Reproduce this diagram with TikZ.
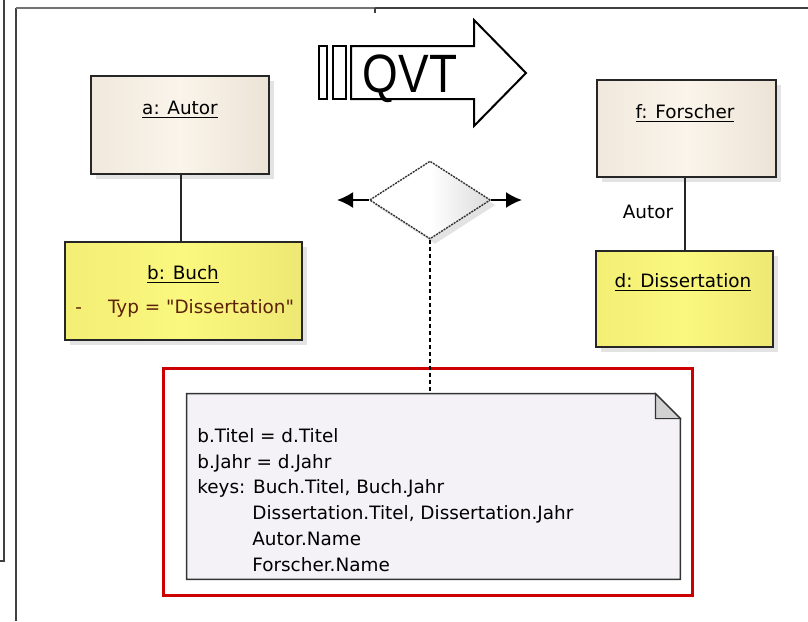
\documentclass[tikz,border=0pt]{standalone}
\usepackage{fontspec}
\setmainfont{DejaVu Sans}
\newfontfamily\qvtfont{Liberation Sans}
\usetikzlibrary{shapes.geometric,shadows,arrows.meta}

\newlength{\du}
\setlength{\du}{0.5pt}

\begin{document}
\begin{tikzpicture}[
  every node/.style={font=\fontsize{9.2}{12.9}\selectfont},
  frameline/.style={line width=2\du, draw=black!75},
  boxshadow/.style={drop shadow={shadow xshift=5\du, shadow yshift=-5\du, fill=black!22}},
  beigebox/.style={rectangle, draw=black!85, line width=1.4\du, inner sep=0pt,
    left color=beigeL, right color=beigeR, middle color=beigeM, boxshadow},
  yellowbox/.style={rectangle, draw=black!85, line width=1.4\du, inner sep=0pt,
    left color=yellowL, right color=yellowR, middle color=yellowM, boxshadow},
  objname/.style={anchor=base, inner sep=0pt},
  assoc/.style={line width=1.4\du, draw=black!85},
  flowarrow/.style={line width=2\du, -{Latex[length=8pt,width=8pt]}},
  notelink/.style={line width=1.5\du, dash pattern=on 4\du off 3\du},
  notetext/.style={anchor=north west, align=left, inner sep=0pt}
]
\definecolor{beigeL}{rgb}{0.941,0.910,0.867}
\definecolor{beigeM}{rgb}{0.980,0.957,0.918}
\definecolor{beigeR}{rgb}{0.925,0.890,0.839}
\definecolor{yellowL}{rgb}{0.953,0.933,0.455}
\definecolor{yellowM}{rgb}{0.984,0.973,0.498}
\definecolor{yellowR}{rgb}{0.929,0.910,0.451}
\definecolor{attrcolor}{rgb}{0.360,0.130,0.040}
\definecolor{notefill}{rgb}{0.957,0.949,0.965}
\definecolor{hilitered}{rgb}{0.800,0.000,0.000}
\useasboundingbox (0,0) rectangle (808\du,-621\du);

% frame
\draw[frameline] (4\du,0) -- (4\du,-561\du) -- (0,-561\du);
\draw[frameline] (16\du,-621\du) -- (16\du,-8\du);
\draw[frameline, draw=black!55] (16\du,-8\du) -- (375\du,-8\du);
\draw[frameline] (375\du,-8\du) -- (808\du,-8\du);
\draw[frameline] (375\du,-8\du) -- (375\du,-13\du);

% QVT arrow
\draw[line width=2\du] (319\du,-46\du) rectangle (327\du,-99\du);
\draw[line width=2\du] (333\du,-46\du) rectangle (346\du,-99\du);
\draw[line width=2\du, line join=miter] (351\du,-46\du) -- (474\du,-46\du) -- (474\du,-20\du)
  -- (526\du,-73\du) -- (474\du,-126\du) -- (474\du,-99\du) -- (351\du,-99\du) -- cycle;
\node[anchor=base, inner sep=0pt, font=\qvtfont\fontsize{27}{27}\selectfont] (qvt)
  at (410\du,-92\du) {\scalebox{0.85}[1]{QVT}};

% source side
\node[beigebox, minimum width=178\du, minimum height=98\du] (autor) at (180\du,-125\du) {};
\node[objname] (autorname) at (180\du,-114\du) {\underline{a: Autor}};
\node[yellowbox, minimum width=237\du, minimum height=98\du] (buch) at (183.5\du,-291\du) {};
\node[objname] (buchname) at (183\du,-279\du) {\underline{b: Buch}};
\node[objname, anchor=base west, text=attrcolor] (buchattr) at (75\du,-313\du)
  {-\hspace{26\du}Typ = \textquotedbl Dissertation\textquotedbl};
\draw[assoc] ([xshift=1\du]autor.south) -- ([xshift=1\du]autor.south |- buch.north);

% target side
\node[beigebox, minimum width=179\du, minimum height=97\du] (forscher) at (686.5\du,-128.5\du) {};
\node[objname] (forschername) at (685\du,-118\du) {\underline{f: Forscher}};
\node[yellowbox, minimum width=177\du, minimum height=96\du] (diss) at (684.5\du,-299\du) {};
\node[objname] (dissname) at (683\du,-287\du) {\underline{d: Dissertation}};
\draw[assoc] (685\du,-177\du) coordinate (fs) -- (fs |- diss.north);
\node[objname] (rolle) at (648\du,-218\du) {Autor};

% relation
\node[diamond, draw=black!80, line width=1.4\du, dash pattern=on 2\du off 1\du,
  minimum width=121\du, minimum height=78\du, aspect=1.55, inner sep=0pt,
  left color=white, right color=black!14, middle color=white, boxshadow] (rel) at (430\du,-200\du) {};
\coordinate (relL) at (337\du,-200\du);
\coordinate (relR) at (522\du,-200\du);
\draw[flowarrow] (rel.west) -- (relL);
\draw[flowarrow] (rel.east) -- (relR);

% note
\node[draw=hilitered, line width=3\du, minimum width=529\du, minimum height=227\du, inner sep=0pt] (hilite)
  at (427.5\du,-481.5\du) {};
\node[minimum width=493\du, minimum height=185\du, inner sep=0pt] (note) at (433.5\du,-486.5\du) {};
\filldraw[fill=notefill, draw=black!80, line width=1.5\du] (note.south west) -- (note.north west)
  -- ([xshift=-25\du]note.north east) -- ([yshift=-25\du]note.north east) -- (note.south east) -- cycle;
\filldraw[fill=black!18, draw=black!80, line width=1.2\du] ([xshift=-25\du]note.north east)
  -- ([xshift=-25\du,yshift=-25\du]note.north east) -- ([yshift=-25\du]note.north east) -- cycle;
\draw[notelink] (rel.south) -- (rel.south |- note.north);
\node[notetext] (notetxt) at (197\du,-428\du) {b.Titel = d.Titel\\
b.Jahr = d.Jahr\\
keys: Buch.Titel, Buch.Jahr\\
\hspace*{55\du}Dissertation.Titel, Dissertation.Jahr\\
\hspace*{55\du}Autor.Name\\
\hspace*{55\du}Forscher.Name};
\end{tikzpicture}
\end{document}
